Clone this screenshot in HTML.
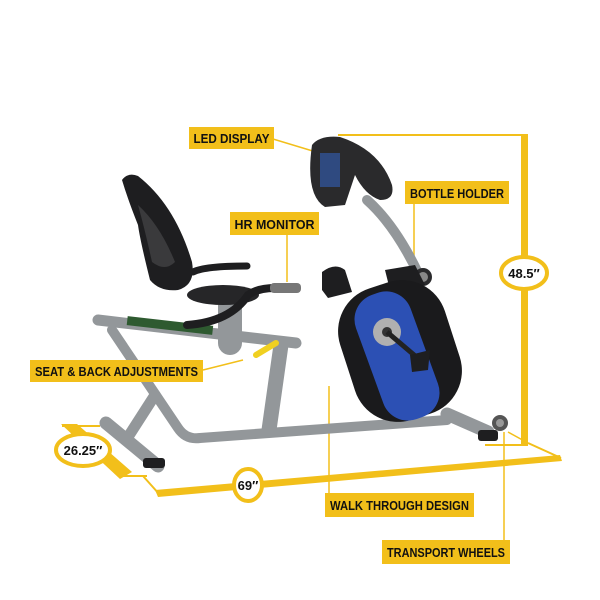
<!DOCTYPE html>
<html><head><style>
html,body{margin:0;padding:0;background:#fff;width:600px;height:600px;overflow:hidden}
svg{display:block}
text{font-family:"Liberation Sans",sans-serif;font-weight:bold}
</style></head><body>
<svg width="600" height="600" viewBox="0 0 600 600">
<g fill="#f2bf1a" stroke="none">
 <rect x="521" y="135" width="7" height="310"/>
 <line x1="338" y1="135" x2="528" y2="135" stroke="#f2bf1a" stroke-width="2"/>
 <polygon points="155,490 560,455 562,461 158,497"/>
 <line x1="528" y1="443" x2="561" y2="458" stroke="#f2bf1a" stroke-width="2"/>
 <line x1="508" y1="432" x2="528" y2="443" stroke="#f2bf1a" stroke-width="1.5"/>
 <line x1="485" y1="445" x2="528" y2="445" stroke="#f2bf1a" stroke-width="2"/>
 <line x1="143" y1="476" x2="160" y2="495" stroke="#f2bf1a" stroke-width="2"/>
 <polygon points="61,424 77,424 132,472 120,479"/>
 <line x1="62" y1="426" x2="100" y2="426" stroke="#f2bf1a" stroke-width="2"/>
 <line x1="118" y1="476" x2="147" y2="476" stroke="#f2bf1a" stroke-width="2"/>
 <line x1="273" y1="139" x2="326" y2="155" stroke="#f2bf1a" stroke-width="1.5"/>
 <line x1="414" y1="203" x2="414" y2="265" stroke="#f2bf1a" stroke-width="1.5"/>
 <line x1="287" y1="233" x2="287" y2="282" stroke="#f2bf1a" stroke-width="1.5"/>
 <line x1="203" y1="370" x2="243" y2="360" stroke="#f2bf1a" stroke-width="1.5"/>
 <line x1="329" y1="386" x2="329" y2="493" stroke="#f2bf1a" stroke-width="1.5"/>
 <line x1="504" y1="432" x2="504" y2="540" stroke="#f2bf1a" stroke-width="1.5"/>
</g>
<!-- frame -->
<g stroke="#93979a" stroke-linecap="round" stroke-linejoin="round" fill="none">
 <path d="M112,330 L178,428 Q186,440 200,438 L447,420" stroke-width="10"/>
 <path d="M447,414 L488,432" stroke-width="13"/>
 <path d="M155,395 L128,437" stroke-width="11"/>
 <path d="M281,345 L269,430" stroke-width="15"/>
 <path d="M98,320 L296,343" stroke-width="11"/>
 <path d="M230,303 L230,343" stroke-width="24"/>
 <path d="M367,200 Q395,225 418,273" stroke-width="10"/>
 <path d="M106,423 L158,466" stroke-width="13"/>
</g>
<rect x="127" y="321" width="86" height="9" fill="#2e5a30" transform="rotate(6.5 170 325)"/>
<rect x="143" y="458" width="22" height="10" fill="#1e1e20" rx="3"/>
<rect x="478" y="430" width="20" height="11" fill="#1e1e20" rx="3"/>
<circle cx="500" cy="423" r="8" fill="#555"/>
<circle cx="500" cy="423" r="4" fill="#999"/>
<!-- seat back -->
<path d="M122,180 Q128,172 138,176 Q175,205 192,262 Q196,285 178,290 Q160,292 150,280 Q140,240 138,225 Q128,200 122,180Z" fill="#1e1e20"/>
<path d="M138,205 Q160,225 175,262 Q165,272 152,262 Q145,230 138,205Z" fill="#3a3a3c"/>
<path d="M193,272 Q205,266 247,266" stroke="#1e1e20" stroke-width="7" fill="none" stroke-linecap="round"/>
<ellipse cx="223" cy="295" rx="36" ry="10" fill="#262628"/>
<path d="M187,325 Q230,322 248,295 Q258,288 275,288" stroke="#1e1e20" stroke-width="8" fill="none" stroke-linecap="round"/>
<rect x="270" y="283" width="31" height="10" fill="#777" rx="4"/>
<line x1="256" y1="355" x2="276" y2="343" stroke="#f0d021" stroke-width="6" stroke-linecap="round"/>
<!-- console -->
<path d="M312,145 Q320,135 340,137 Q380,150 392,185 Q395,200 380,200 Q365,195 355,175 L345,205 L325,207 Q305,195 312,145Z" fill="#2a2a2c"/>
<rect x="320" y="153" width="20" height="34" fill="#2f4a80"/>
<circle cx="423" cy="277" r="9" fill="#2a2a2c"/>
<circle cx="423" cy="277" r="5" fill="#888"/>
<path d="M385,270 L415,265 L425,285 L390,290Z" fill="#1e1e20"/>
<!-- pedal -->
<path d="M322,272 Q335,262 345,270 L352,292 L328,298 L322,290Z" fill="#1e1e20"/>
<!-- flywheel -->
<rect x="345" y="282" width="110" height="138" rx="45" fill="#1a1a1c" transform="rotate(-18 400 351)"/>
<rect x="368" y="290" width="58" height="132" rx="26" fill="#2c50b4" transform="rotate(-20 397 356)"/>
<circle cx="387" cy="332" r="14" fill="#b0b0b0"/>
<circle cx="387" cy="332" r="5" fill="#333"/>
<line x1="387" y1="332" x2="420" y2="360" stroke="#222" stroke-width="5"/>
<path d="M410,355 L430,350 L428,370 L412,372Z" fill="#1e1e20"/>
<!-- labels -->
<g fill="#f2bf1a">
 <rect x="189" y="127" width="85" height="22"/>
 <rect x="405" y="181" width="104" height="23"/>
 <rect x="230" y="212" width="89" height="23"/>
 <rect x="30" y="360" width="173" height="22"/>
 <rect x="325" y="493" width="149" height="24"/>
 <rect x="382" y="540" width="128" height="24"/>
</g>
<g fill="#111" font-size="13" text-anchor="middle">
 <text x="231.5" y="143" textLength="76" lengthAdjust="spacingAndGlyphs">LED DISPLAY</text>
 <text x="457" y="198" textLength="94" lengthAdjust="spacingAndGlyphs">BOTTLE HOLDER</text>
 <text x="274.5" y="229" textLength="80" lengthAdjust="spacingAndGlyphs">HR MONITOR</text>
 <text x="116.5" y="376" textLength="163" lengthAdjust="spacingAndGlyphs">SEAT &amp; BACK ADJUSTMENTS</text>
 <text x="399.5" y="510" textLength="139" lengthAdjust="spacingAndGlyphs">WALK THROUGH DESIGN</text>
 <text x="446" y="557" textLength="118" lengthAdjust="spacingAndGlyphs">TRANSPORT WHEELS</text>
</g>
<g fill="#fff" stroke="#f2bf1a" stroke-width="4">
 <ellipse cx="524" cy="273" rx="23" ry="16"/>
 <ellipse cx="83" cy="450" rx="27" ry="16"/>
 <ellipse cx="248" cy="485" rx="14" ry="16"/>
</g>
<g fill="#111" font-size="13" text-anchor="middle" font-weight="normal">
 <text x="524" y="278">48.5″</text>
 <text x="83" y="455">26.25″</text>
 <text x="248" y="490">69″</text>
</g>
</svg>
</body></html>
